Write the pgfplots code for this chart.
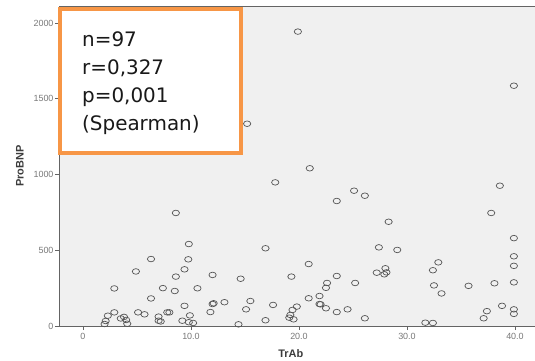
\documentclass[border=0pt]{standalone}
\usepackage{pgfplots}
\pgfplotsset{compat=1.18}
\usepackage{fontspec}
\setmainfont{Liberation Sans}
\newfontfamily\boxfont{DejaVu Sans}
\definecolor{bg}{RGB}{240,240,240}
\definecolor{boxorange}{RGB}{247,150,70}
\definecolor{axisgray}{RGB}{100,100,100}
\definecolor{markgray}{RGB}{85,85,85}
\definecolor{ticklab}{RGB}{120,120,120}
\definecolor{labgray}{RGB}{60,60,60}
\begin{document}
\begin{tikzpicture}
\useasboundingbox (-59bp,-35bp) rectangle (476bp,326bp);
\begin{axis}[
  at={(0,0)}, anchor=south west, scale only axis,
  width=482bp, height=320bp,
  xmin=-2.22, xmax=42.41, ymin=0, ymax=2112,
  axis background/.style={fill=bg},
  axis line style={axisgray, line width=0.8bp},
  xtick={0,10,20,30,40}, xticklabels={0,10.0,20.0,30.0,40.0},
  ytick={0,500,1000,1500,2000},
  yticklabels={0,500,1000,1500,2000},
  tick align=outside, major tick length=4bp,
  tick style={axisgray, line width=0.6bp},
  xtick pos=bottom, ytick pos=left,
  ticklabel style={font=\fontsize{9}{10}\selectfont, text=ticklab},
  /pgf/number format/assume math mode=true,
  /pgf/number format/1000 sep={},
  yticklabel style={xshift=2bp},
  xlabel={TrAb}, ylabel={ProBNP},
  label style={font=\bfseries\fontsize{11}{12}\selectfont, text=labgray},
  xlabel style={at={(axis description cs:0.481,-0.097)}, anchor=base},
  ylabel style={at={(axis description cs:-0.081,0.5)}, anchor=center},
]
\addplot[only marks, mark=o, mark size=2.8bp,
  mark options={draw=markgray, line width=0.7bp, xscale=1.3}] table {
x y
2.0 13
2.1 33
2.3 68
2.9 90
2.9 248
3.5 50
3.8 60
4.0 40
4.1 15
4.9 360
5.1 90
5.7 77
6.3 442
6.3 182
7.0 62
7.0 35
7.2 30
7.4 250
7.8 90
8.0 90
8.5 231
8.6 326
8.6 746
9.4 374
9.4 133
9.75 440
9.8 541
9.9 70
9.2 35
9.8 25
10.2 20
10.6 249
11.8 92
12.0 337
12.0 145
12.1 150
13.1 157
14.4 11
14.6 312
15.1 110
15.5 165
15.2 1335
16.9 513
16.9 38
17.6 139
17.8 948
19.3 326
19.1 55
19.4 106
19.8 128
19.5 44
19.2 73
19.9 1943
20.9 409
20.9 183
21.0 1041
21.9 198
21.9 145
22.0 143
22.5 117
22.5 252
22.6 284
23.5 92
23.5 330
23.5 825
24.5 110
25.1 893
25.2 284
26.1 860
26.1 51
27.2 352
27.4 519
27.9 341
28.0 381
28.1 354
28.3 688
29.1 502
31.7 22
32.4 20
32.4 368
32.5 268
32.9 420
33.2 215
35.7 265
37.1 51
37.4 98
37.8 746
38.1 282
38.6 926
38.8 133
39.9 1586
39.9 580
39.9 460
39.9 397
39.9 288
39.9 110
39.9 80
};
\end{axis}
\draw[boxorange, line width=4bp, fill=white] (1bp,173bp) rectangle (182bp,317bp);
\begin{scope}[every node/.style={anchor=base west, inner sep=0pt, text=black!90,
    font=\boxfont\fontsize{20}{24}\selectfont}]
\node at (23bp,279bp) {n=97};
\node at (23bp,251bp) {r=0,327};
\node at (23bp,223bp) {p=0,001};
\node at (23bp,195bp) {(Spearman)};
\end{scope}
\end{tikzpicture}
\end{document}
